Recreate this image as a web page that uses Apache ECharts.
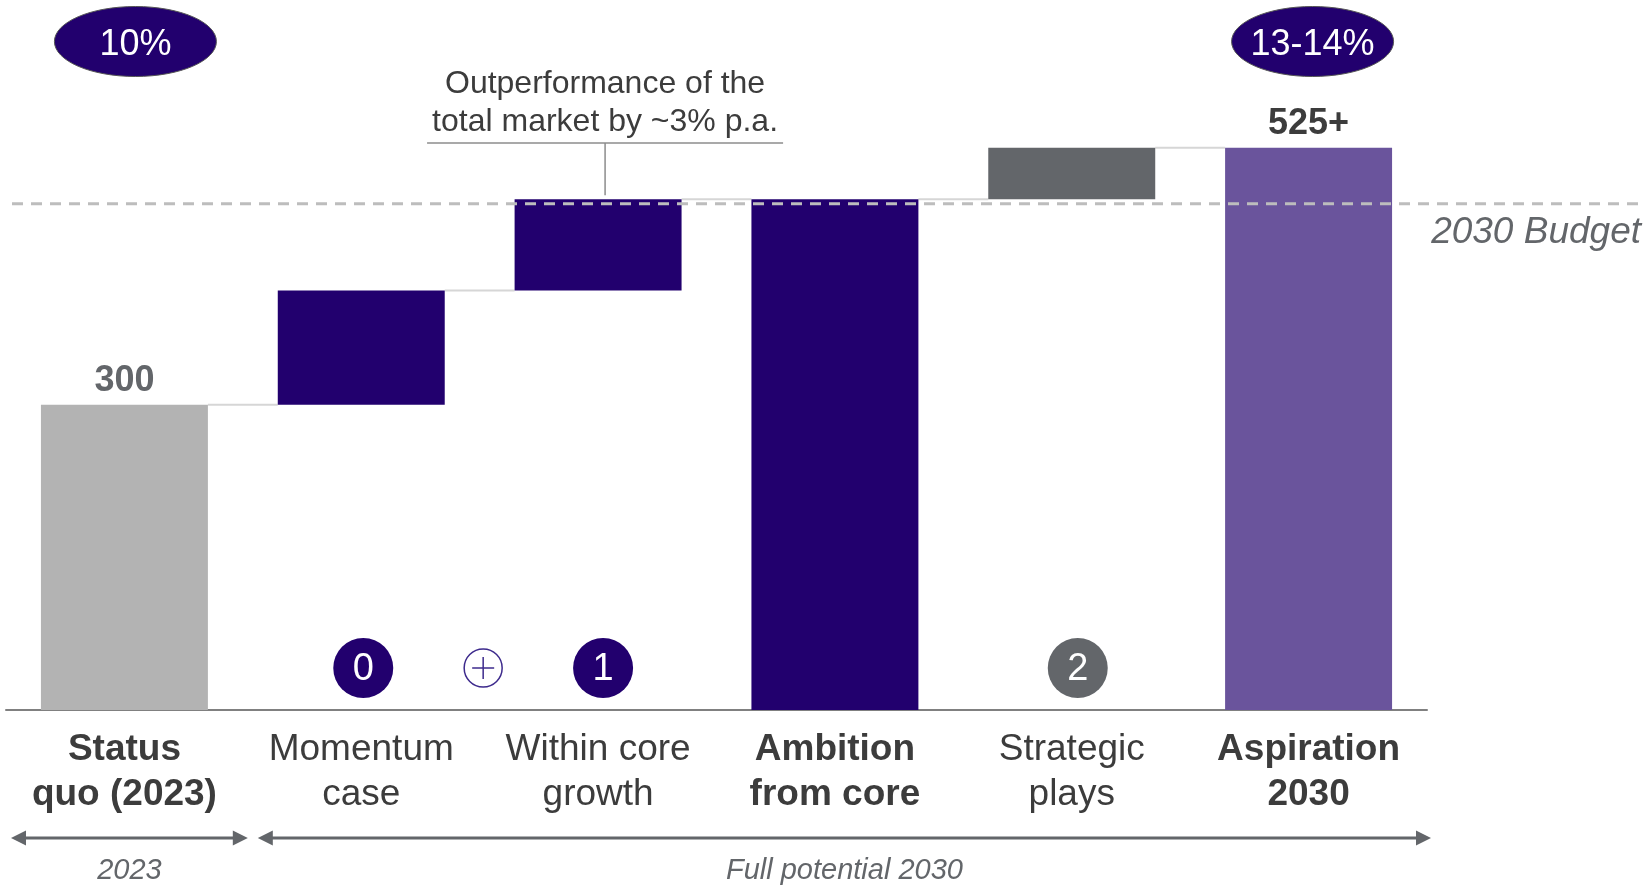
<!DOCTYPE html>
<html>
<head>
<meta charset="utf-8">
<script src="https://cdn.jsdelivr.net/npm/echarts@6/dist/echarts.min.js"></script>
<style>
  html, body { margin: 0; padding: 0; background: #fff; }
  #chart { width: 1645px; height: 885px; }
</style>
</head>
<body>
<div id="chart"></div>
<script>
// categories of the waterfall
const categories = ['Status\nquo (2023)', 'Momentum\ncase', 'Within core\ngrowth', 'Ambition\nfrom core', 'Strategic\nplays', 'Aspiration\n2030'];
const boldCategory = [true, false, false, true, false, true];
// invisible floor + visible step of each bar
const baseValues = [0, 300, 400, 0, 480, 0];
const stepValues = [300, 100, 80, 480, 45, 525];
const barColors = ['#B3B3B3', '#22006E', '#22006E', '#22006E', '#63666A', '#6A549C'];
const valueLabels = ['300', '', '', '', '', '525+'];
const valueLabelColors = ['#63666A', '', '', '', '', '#3C3C3C'];
const budgetValue = 476;
const stepBadges = ['', '0', '1', '', '2', ''];
const growthLabels = ['10%', '', '', '', '', '13-14%'];

const FONT = '"Liberation Sans", Arial, sans-serif';
const DARK = '#3C3C3C';
const GREY = '#63666A';
const PURPLE = '#22006E';

// level where each bar ends, used for the connector lines
const connectorData = [];
for (let i = 0; i < stepValues.length - 1; i++) {
  connectorData.push([i, baseValues[i] + stepValues[i]]);
}

const chart = echarts.init(document.getElementById('chart'));

const option = {
  animation: false,
  grid: { left: 6, right: 218, top: 70, bottom: 175 },
  xAxis: {
    type: 'category',
    data: categories,
    axisLine: { lineStyle: { color: '#808080', width: 2 } },
    axisTick: { show: false },
    axisLabel: {
      interval: 0,
      margin: 17,
      formatter: (val, idx) => {
        const tag = boldCategory[idx] ? 'b' : 'n';
        return val.split('\n').map(s => '{' + tag + '|' + s + '}').join('\n');
      },
      rich: {
        n: { fontSize: 37, lineHeight: 45, color: DARK, fontFamily: FONT },
        b: { fontSize: 37, lineHeight: 45, color: DARK, fontFamily: FONT, fontWeight: 'bold' }
      }
    }
  },
  yAxis: {
    type: 'value',
    min: 33,
    max: 593,
    show: false,
    splitLine: { show: false }
  },
  series: [
    {
      type: 'bar',
      stack: 'wf',
      silent: true,
      barWidth: '70.5%',
      itemStyle: { color: 'transparent' },
      data: baseValues
    },
    {
      type: 'bar',
      stack: 'wf',
      barWidth: '70.5%',
      data: stepValues.map((v, i) => ({
        value: v,
        itemStyle: { color: barColors[i] },
        label: {
          show: valueLabels[i] !== '',
          position: 'top',
          distance: 6,
          formatter: valueLabels[i],
          fontSize: 36,
          lineHeight: 36,
          fontWeight: 'bold',
          fontFamily: FONT,
          color: valueLabelColors[i]
        }
      }))
    },
    {
      type: 'custom',
      z: 1,
      silent: true,
      renderItem: (params, api) => {
        const i = api.value(0);
        const lvl = api.value(1);
        const a = api.coord([i, lvl]);
        const b = api.coord([i + 1, lvl]);
        const half = api.size([1, 0])[0] * 0.705 / 2;
        return {
          type: 'line',
          shape: { x1: a[0] + half, y1: a[1], x2: b[0] - half, y2: b[1] },
          style: { stroke: '#D6D6D6', lineWidth: 2 }
        };
      },
      data: connectorData
    }
  ]
};

chart.setOption(option);

const px = i => chart.convertToPixel({ xAxisIndex: 0 }, i);
const py = v => chart.convertToPixel({ yAxisIndex: 0 }, v);
const band = px(1) - px(0);
const gridL = px(0) - band / 2;
const gridR = px(categories.length - 1) + band / 2;
const axisY = py(33);

const g = [];

// 2030 budget dashed line, runs past the plot to the page edge
const by = py(budgetValue);
g.push({
  type: 'line', z: 100, silent: true,
  shape: { x1: gridL + 6, y1: by, x2: 1645, y2: by },
  style: { stroke: '#BDBDBD', lineWidth: 3, lineDash: [11, 8] }
});
g.push({
  type: 'text', z: 100,
  x: 1641, y: by + 29,
  style: { text: '2030 Budget', fontSize: 37, fontStyle: 'italic', fontFamily: FONT, fill: GREY, align: 'right', verticalAlign: 'middle' }
});

// growth ellipses above first and last bar
const ellipseNudge = [11, 0, 0, 0, 0, 4];
growthLabels.forEach((t, i) => {
  if (!t) return;
  const cx = px(i) + ellipseNudge[i];
  g.push({
    type: 'ellipse', z: 100,
    shape: { cx: cx, cy: 41.5, rx: 81, ry: 35 },
    style: { fill: PURPLE, stroke: '#555', lineWidth: 1 }
  });
  g.push({
    type: 'text', z: 101,
    x: cx, y: 45,
    style: { text: t, fontSize: 36, fontFamily: FONT, fill: '#fff', align: 'center', verticalAlign: 'middle' }
  });
});

// callout over "Within core growth"
const ax = px(2) + 7;
const atop = py(baseValues[2] + stepValues[2]);
g.push({
  type: 'text', z: 100, x: ax, y: 84,
  style: { text: 'Outperformance of the', fontSize: 32, fontFamily: FONT, fill: DARK, align: 'center', verticalAlign: 'middle' }
});
g.push({
  type: 'text', z: 100, x: ax, y: 122,
  style: { text: 'total market by ~3% p.a.', fontSize: 32, fontFamily: FONT, fill: DARK, align: 'center', verticalAlign: 'middle' }
});
g.push({
  type: 'line', z: 100, silent: true,
  shape: { x1: ax - 178, y1: 143, x2: ax + 178, y2: 143 },
  style: { stroke: '#8C8C8C', lineWidth: 1.5 }
});
g.push({
  type: 'line', z: 100, silent: true,
  shape: { x1: ax, y1: 143, x2: ax, y2: atop - 4 },
  style: { stroke: '#8C8C8C', lineWidth: 1.5 }
});

// numbered badges near the axis
const badgeNudge = [0, 2, 5, 0, 6, 0];
const badgeY = axisY - 42;
const badgeX = [];
stepBadges.forEach((t, i) => {
  badgeX[i] = px(i) + badgeNudge[i];
  if (!t) return;
  const col = i === 4 ? GREY : PURPLE;
  g.push({
    type: 'circle', z: 100,
    shape: { cx: badgeX[i], cy: badgeY, r: 30 },
    style: { fill: col }
  });
  g.push({
    type: 'text', z: 101, x: badgeX[i], y: badgeY + 2,
    style: { text: t, fontSize: 38, fontFamily: FONT, fill: '#fff', align: 'center', verticalAlign: 'middle' }
  });
});
// plus sign between badge 0 and 1
const plusX = (badgeX[1] + badgeX[2]) / 2;
g.push({
  type: 'circle', z: 100,
  shape: { cx: plusX, cy: badgeY, r: 19 },
  style: { fill: '#fff', stroke: '#3D2A8C', lineWidth: 1.5 }
});
g.push({
  type: 'line', z: 101, shape: { x1: plusX - 11, y1: badgeY, x2: plusX + 11, y2: badgeY },
  style: { stroke: '#3D2A8C', lineWidth: 1.5 }
});
g.push({
  type: 'line', z: 101, shape: { x1: plusX, y1: badgeY - 11, x2: plusX, y2: badgeY + 11 },
  style: { stroke: '#3D2A8C', lineWidth: 1.5 }
});

// timeline arrows under the labels
const arrowY = 838;
function arrow(x1, x2, y) {
  const hl = 15, hh = 7.5;
  g.push({
    type: 'line', z: 100,
    shape: { x1: x1 + hl - 1, y1: y, x2: x2 - hl + 1, y2: y },
    style: { stroke: GREY, lineWidth: 3 }
  });
  g.push({
    type: 'polygon', z: 100,
    shape: { points: [[x1, y], [x1 + hl, y - hh], [x1 + hl, y + hh]] },
    style: { fill: GREY }
  });
  g.push({
    type: 'polygon', z: 100,
    shape: { points: [[x2, y], [x2 - hl, y - hh], [x2 - hl, y + hh]] },
    style: { fill: GREY }
  });
}
const a1 = [gridL + 5, gridL + band + 5];
const a2 = [gridL + band + 15, gridR + 4];
arrow(a1[0], a1[1], arrowY);
arrow(a2[0], a2[1], arrowY);
g.push({
  type: 'text', z: 100, x: (a1[0] + a1[1]) / 2, y: 871,
  style: { text: '2023', fontSize: 29, fontStyle: 'italic', fontFamily: FONT, fill: GREY, align: 'center', verticalAlign: 'middle' }
});
g.push({
  type: 'text', z: 100, x: (a2[0] + a2[1]) / 2, y: 871,
  style: { text: 'Full potential 2030', fontSize: 29, fontStyle: 'italic', fontFamily: FONT, fill: GREY, align: 'center', verticalAlign: 'middle' }
});

chart.setOption({ graphic: g });
</script>
</body>
</html>
